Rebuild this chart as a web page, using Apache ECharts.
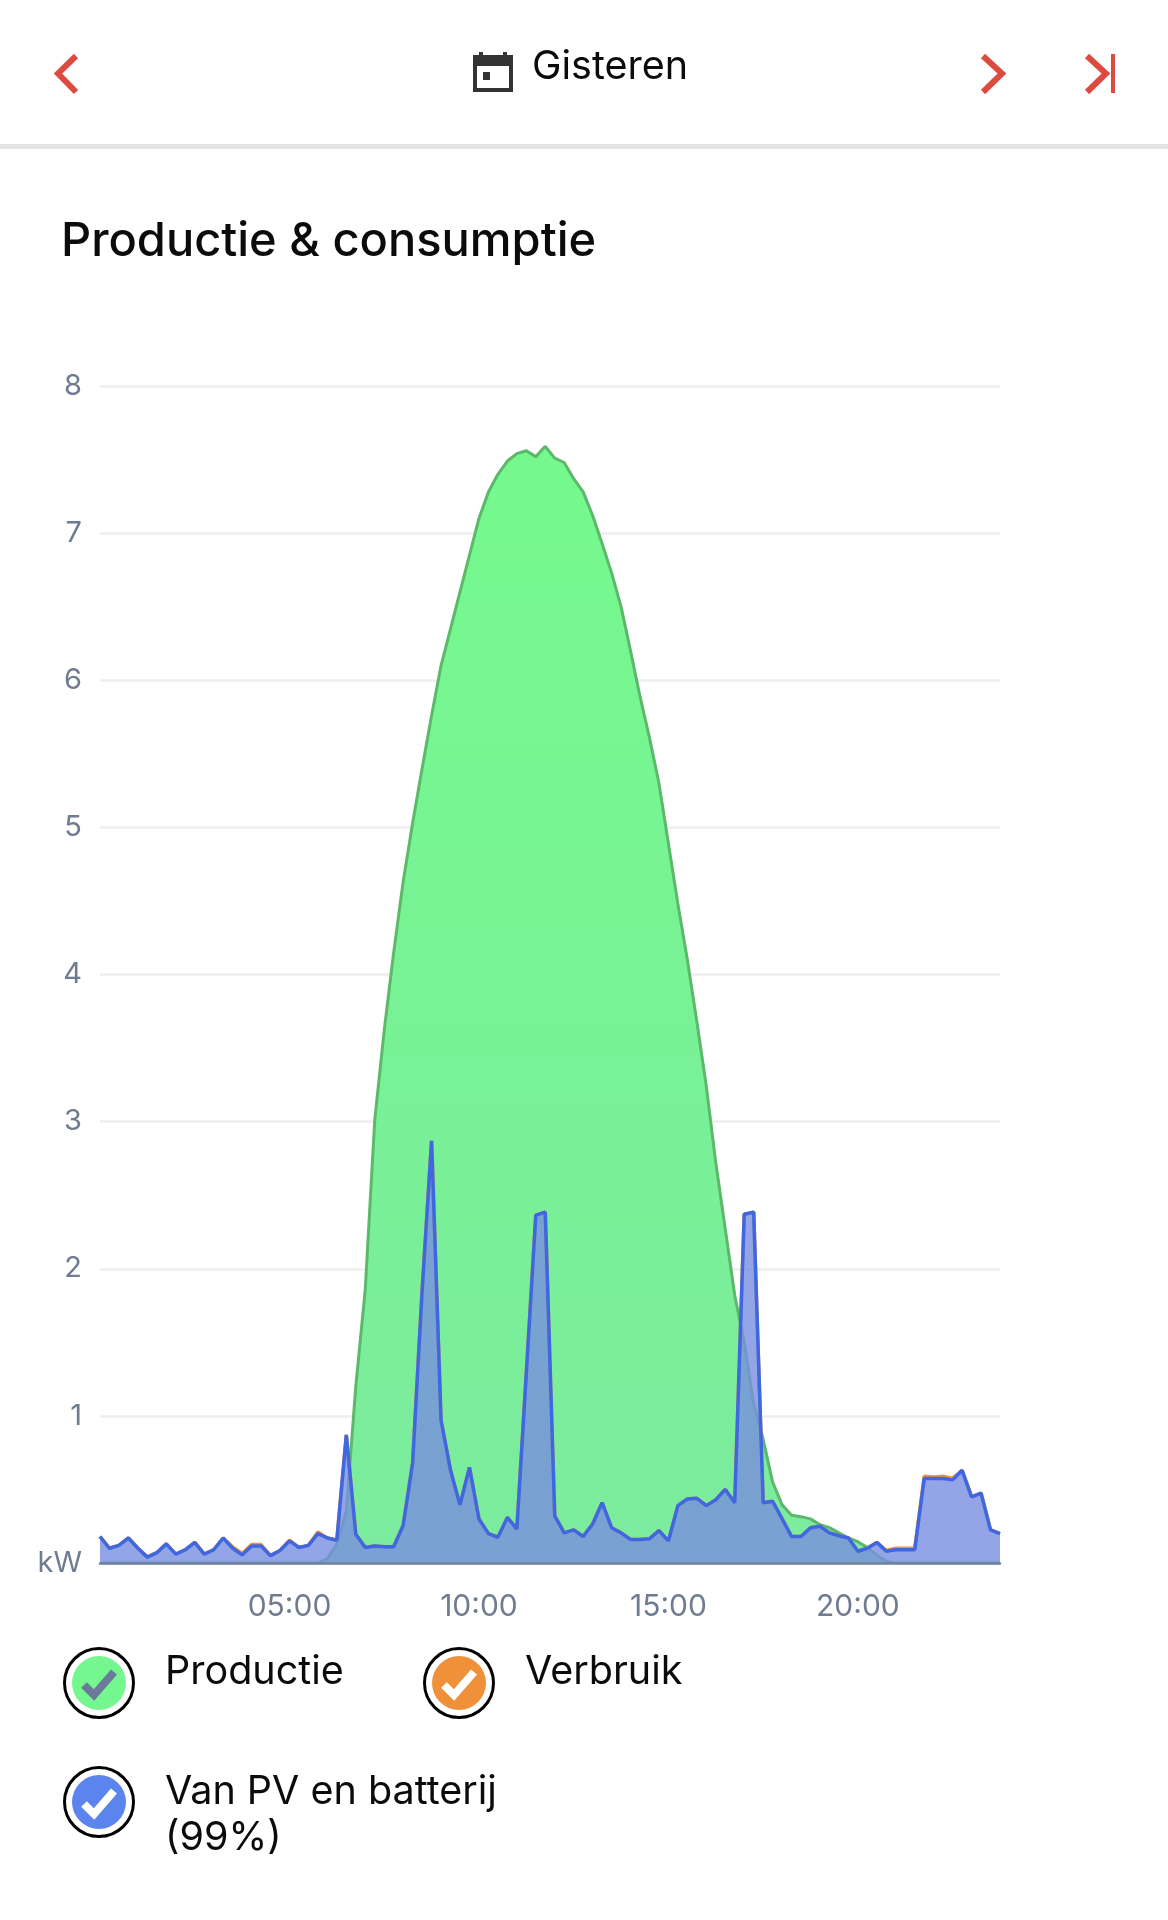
<!DOCTYPE html>
<html>
<head>
<meta charset="utf-8">
<title>Productie & consumptie</title>
<script src="https://cdn.jsdelivr.net/npm/echarts@6/dist/echarts.min.js"></script>
<style>
html, body { margin: 0; padding: 0; background: #fff; }
#chart { width: 1168px; height: 1920px; }
</style>
</head>
<body>
<div id="chart"></div>
<script>
var times = [
  '00:00','00:15','00:30','00:45','01:00','01:15','01:30','01:45','02:00','02:15','02:30','02:45',
  '03:00','03:15','03:30','03:45','04:00','04:15','04:30','04:45','05:00','05:15','05:30','05:45',
  '06:00','06:15','06:30','06:45','07:00','07:15','07:30','07:45','08:00','08:15','08:30','08:45',
  '09:00','09:15','09:30','09:45','10:00','10:15','10:30','10:45','11:00','11:15','11:30','11:45',
  '12:00','12:15','12:30','12:45','13:00','13:15','13:30','13:45','14:00','14:15','14:30','14:45',
  '15:00','15:15','15:30','15:45','16:00','16:15','16:30','16:45','17:00','17:15','17:30','17:45',
  '18:00','18:15','18:30','18:45','19:00','19:15','19:30','19:45','20:00','20:15','20:30','20:45',
  '21:00','21:15','21:30','21:45','22:00','22:15','22:30','22:45','23:00','23:15','23:30','23:45'
];
var tickLabels = ['05:00', '10:00', '15:00', '20:00'];

var productie = [
  0,0,0,0,0,0,0,0,0,0,0,0,
  0,0,0,0,0,0,0,0,0,0,0,0,
  0.03,0.13,0.35,1.2,1.86,3.01,3.62,4.15,4.63,5.03,5.40,5.76,
  6.10,6.35,6.60,6.85,7.10,7.28,7.40,7.49,7.54,7.56,7.52,7.59,
  7.51,7.48,7.37,7.28,7.12,6.93,6.73,6.50,6.20,5.89,5.61,5.30,
  4.89,4.48,4.10,3.68,3.24,2.72,2.27,1.82,1.50,1.08,0.84,0.55,
  0.395,0.325,0.315,0.30,0.26,0.24,0.205,0.17,0.145,0.105,0.055,0.01,
  0,0,0,0,0,0,0,0,0,0,0,0
];
var verbruik = [
  0.18,0.10,0.12,0.17,0.10,0.04,0.07,0.13,0.06,0.09,0.14,0.06,
  0.09,0.17,0.11,0.065,0.125,0.125,0.05,0.085,0.155,0.105,0.12,0.21,
  0.17,0.155,0.87,0.195,0.105,0.115,0.11,0.11,0.255,0.68,1.85,2.87,
  0.97,0.63,0.395,0.65,0.30,0.20,0.175,0.31,0.23,1.29,2.365,2.385,
  0.32,0.205,0.225,0.18,0.265,0.41,0.24,0.205,0.16,0.16,0.165,0.22,
  0.15,0.39,0.435,0.44,0.39,0.43,0.50,0.41,2.37,2.385,0.41,0.42,
  0.30,0.18,0.18,0.24,0.25,0.205,0.185,0.17,0.08,0.10,0.14,0.085,
  0.10,0.10,0.10,0.59,0.585,0.59,0.575,0.63,0.45,0.475,0.225,0.20
];
var vanPv = [
  0.18,0.10,0.12,0.17,0.10,0.04,0.07,0.13,0.06,0.09,0.14,0.06,
  0.09,0.17,0.10,0.055,0.115,0.115,0.05,0.085,0.15,0.105,0.12,0.20,
  0.17,0.155,0.87,0.195,0.105,0.115,0.11,0.11,0.255,0.68,1.85,2.87,
  0.97,0.63,0.395,0.65,0.30,0.20,0.175,0.31,0.23,1.29,2.365,2.385,
  0.32,0.205,0.225,0.18,0.265,0.41,0.24,0.205,0.16,0.16,0.165,0.22,
  0.15,0.39,0.435,0.44,0.39,0.43,0.50,0.41,2.37,2.385,0.41,0.42,
  0.30,0.18,0.18,0.24,0.25,0.205,0.185,0.17,0.08,0.10,0.14,0.08,
  0.09,0.09,0.09,0.575,0.575,0.575,0.565,0.63,0.45,0.475,0.225,0.20
];

var FONT = 'Inter, "Noto Sans", sans-serif';
var RED = '#dd4b40';

function chevron(points) {
  return {
    type: 'polyline',
    shape: { points: points },
    style: { stroke: RED, lineWidth: 6, fill: null, lineCap: 'butt', lineJoin: 'miter' }
  };
}

function label(text, x, y, size, weight, color) {
  return {
    type: 'text',
    x: x,
    y: y,
    style: {
      text: text,
      fill: color || '#0b0b0b',
      font: (weight || 400) + ' ' + size + 'px ' + FONT,
      verticalAlign: 'middle'
    }
  };
}

// legend marker: ring, coloured dot, check
function marker(cx, cy, color, checkColor) {
  return [
    { type: 'circle', shape: { cx: cx, cy: cy, r: 34.5 }, style: { fill: '#fff', stroke: '#000', lineWidth: 3 } },
    { type: 'circle', shape: { cx: cx, cy: cy, r: 27 }, style: { fill: color } },
    {
      type: 'polyline',
      shape: { points: [[cx - 15, cy + 2], [cx - 5, cy + 12], [cx + 15, cy - 11]] },
      style: { stroke: checkColor, lineWidth: 8, fill: null, lineJoin: 'miter' }
    }
  ];
}

var header = [
  chevron([[76, 56], [58, 73.5], [76, 92]]),
  chevron([[983, 56], [1002, 73.5], [983, 92]]),
  chevron([[1087, 56], [1106, 73.5], [1087, 92]]),
  { type: 'rect', shape: { x: 1111, y: 54, width: 4, height: 39 }, style: { fill: RED } },
  // calendar icon
  { type: 'rect', shape: { x: 475, y: 57, width: 36, height: 33 }, style: { fill: '#fff', stroke: '#333', lineWidth: 4 } },
  { type: 'rect', shape: { x: 473, y: 57, width: 40, height: 9 }, style: { fill: '#333' } },
  { type: 'rect', shape: { x: 479, y: 52, width: 4, height: 6 }, style: { fill: '#333' } },
  { type: 'rect', shape: { x: 503, y: 52, width: 4, height: 6 }, style: { fill: '#333' } },
  { type: 'rect', shape: { x: 483, y: 72, width: 7, height: 8 }, style: { fill: '#333' } },
  label('Gisteren', 532, 67, 39.5, 400),
  { type: 'rect', shape: { x: 0, y: 144, width: 1168, height: 5 }, style: { fill: '#e3e3e3' } },
  label('Productie & consumptie', 61, 242, 47, 500)
];

var legendItems = []
  .concat(marker(99, 1683, '#75f78f', '#6b7a99'))
  .concat(marker(459, 1683, '#f09038', '#fff'))
  .concat(marker(99, 1802, '#5b84ee', '#fff'))
  .concat([
    label('Productie', 165, 1672, 39.5, 400),
    label('Verbruik', 525, 1672, 39.5, 400),
    label('Van PV en batterij', 165, 1792, 39.5, 400),
    label('(99%)', 165, 1838, 39.5, 400)
  ]);

var chart = echarts.init(document.getElementById('chart'));

chart.setOption({
  animation: false,
  backgroundColor: '#fff',
  grid: { left: 100, width: 900, top: 386, height: 1177 },
  xAxis: {
    type: 'category',
    boundaryGap: false,
    data: times,
    offset: 2,
    z: 6,
    axisLine: { show: true, lineStyle: { color: '#71819a', width: 2.5 } },
    axisTick: { show: false },
    axisLabel: {
      color: '#6f7b90',
      fontFamily: FONT,
      fontSize: 30,
      margin: 27,
      interval: function (index, value) { return tickLabels.indexOf(value) >= 0; }
    },
    splitLine: { show: false }
  },
  yAxis: {
    type: 'value',
    min: 0,
    max: 8,
    interval: 1,
    axisLine: { show: false },
    axisTick: { show: false },
    axisLabel: {
      color: '#6f7b90',
      fontFamily: FONT,
      fontSize: 29,
      margin: 18,
      formatter: function (v) { return v === 0 ? 'kW' : String(v); }
    },
    splitLine: { lineStyle: { color: '#eeeeee', width: 2.5 } }
  },
  series: [
    {
      name: 'Productie',
      type: 'line',
      data: productie,
      symbol: 'none',
      z: 2,
      lineStyle: { color: '#5cb86b', width: 3 },
      areaStyle: {
        opacity: 1,
        color: new echarts.graphic.LinearGradient(0, 0, 0, 1, [
          { offset: 0, color: '#75f98d' },
          { offset: 1, color: '#7ceb9e' }
        ])
      }
    },
    {
      name: 'Verbruik',
      type: 'line',
      data: verbruik,
      symbol: 'none',
      z: 3,
      lineStyle: { color: '#f0913c', width: 3.5 }
    },
    {
      name: 'Van PV en batterij',
      type: 'line',
      data: vanPv,
      symbol: 'none',
      z: 4,
      lineStyle: { color: '#3f68e0', width: 3.5 },
      areaStyle: { color: 'rgb(120,143,224)', opacity: 0.8 }
    }
  ],
  graphic: { elements: header.concat(legendItems) }
});
</script>
</body>
</html>
